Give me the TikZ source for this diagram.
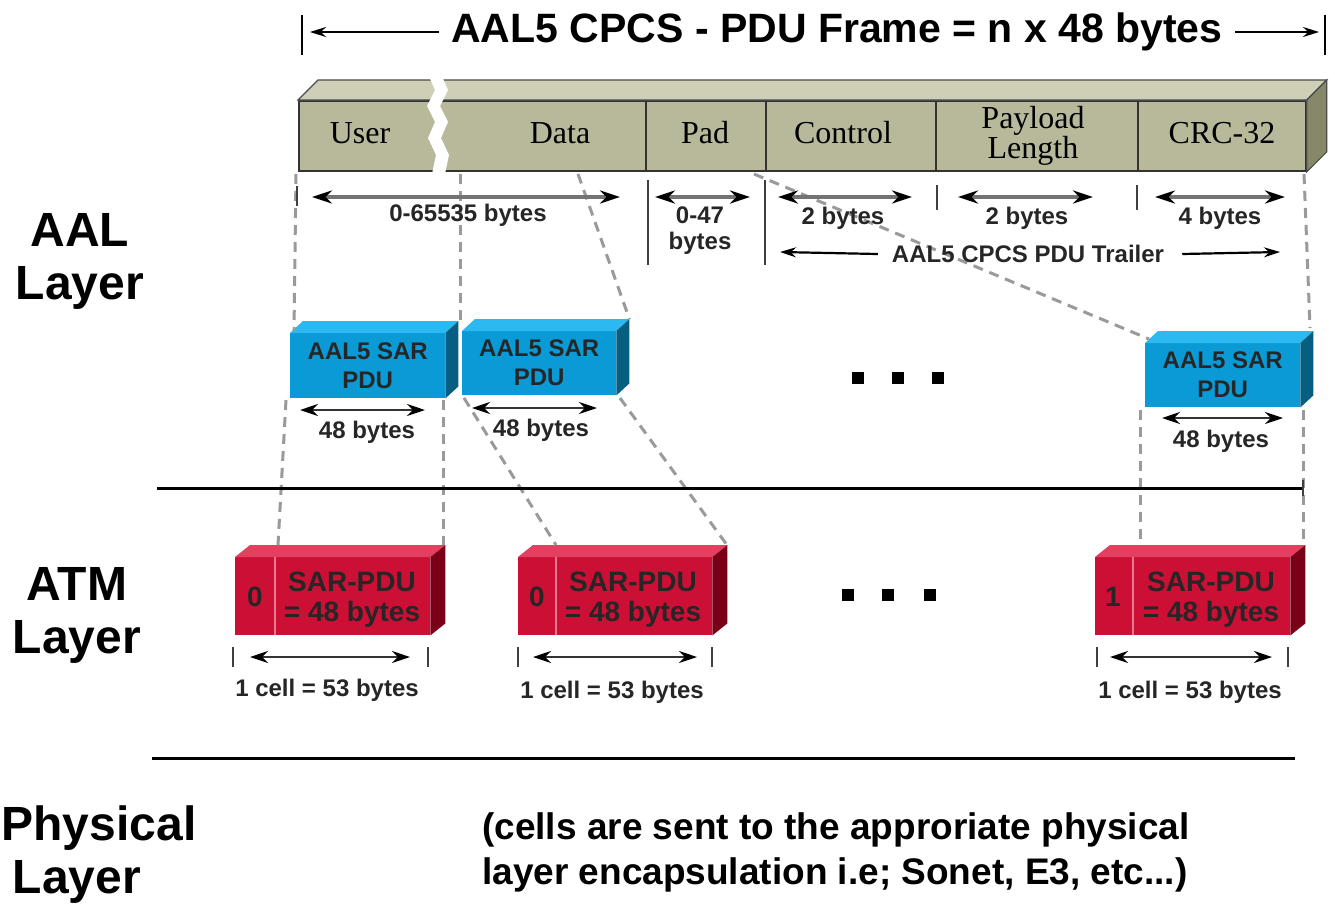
\documentclass[tikz,border=0pt]{standalone}
\usepackage{fontspec}
\setmainfont{Liberation Sans}
\newfontfamily\serfont{Liberation Serif}
\usetikzlibrary{arrows.meta}
\definecolor{tanfront}{HTML}{B8B89A}
\definecolor{tantop}{HTML}{CFCFB8}
\definecolor{tanside}{HTML}{87876A}
\definecolor{bluefront}{HTML}{0A9AD6}
\definecolor{bluetop}{HTML}{2CB8F0}
\definecolor{blueside}{HTML}{065E80}
\definecolor{redfront}{HTML}{CC0F35}
\definecolor{redtop}{HTML}{E3405F}
\definecolor{redside}{HTML}{7A0018}
\definecolor{dashgray}{HTML}{9A9A9A}
\newcommand\boxfaces[5]{%
 \fill[#4] (#1.north west) -- ++(#2,-#3) -- ([shift={(#2,-#3)}]#1.north east) -- (#1.north east) -- cycle;
 \fill[#5] (#1.north east) -- ++(#2,-#3) -- ([shift={(#2,-#3)}]#1.south east) -- (#1.south east) -- cycle;}
\begin{document}
\begin{tikzpicture}[x=1pt,y=-1pt,
  lbl/.style={font=\bfseries\fontsize{24}{26}\selectfont, inner sep=0pt, align=center, text=black!85},
  layerlbl/.style={font=\bfseries\fontsize{48}{53}\selectfont, inner sep=0pt, align=center},
  fcell/.style={draw=black!80, line width=1.8pt, fill=tanfront, minimum height=70pt, anchor=north west, inner sep=0pt},
  ser/.style={font=\serfont\fontsize{32}{26}\selectfont, inner sep=0pt, align=center},
  dimarr/.style={draw=black!55, line width=3.6pt, {Stealth[length=20pt,width=13pt,black]}-{Stealth[length=20pt,width=13pt,black]}},
  cellarr/.style={draw=black!80, line width=2.6pt, {Stealth[length=18pt,width=12pt,black]}-{Stealth[length=18pt,width=12pt,black]}},
  tharrow/.style={draw=black, line width=2.2pt, -{Stealth[length=16pt,width=10pt]}},
  tk/.style={draw=black!75, line width=2.2pt},
  dsh/.style={draw=dashgray, line width=3pt, dash pattern=on 10pt off 7pt},
  bluebox/.style={fill=bluefront, anchor=north west, inner sep=0pt, font=\bfseries\fontsize{24}{29}\selectfont, align=center, text=black!85},
  redbox/.style={fill=redfront, anchor=north west, inner sep=0pt},
  redtxt/.style={font=\bfseries\fontsize{28}{30}\selectfont, inner sep=0pt, align=center, text=black!85},
  sqdot/.style={fill=black, minimum size=12pt, inner sep=0pt}
]
\useasboundingbox (0,0) rectangle (1335,908);
\fill[white] (0,0) rectangle (1335,908);

% ---------- title ----------
\node[font=\bfseries\fontsize{41}{44}\selectfont, inner sep=0pt] (title) at (837,32) {AAL5 CPCS - PDU Frame = n x 48 bytes};
\coordinate (tl) at (302,32); \coordinate (tr) at (1325,32);
\draw[tk, line width=1.6pt, draw=black] (302,15) -- (302,55);
\draw[tk, line width=1.6pt, draw=black] (1325,15) -- (1325,55);
\draw[tharrow] ([xshift=-12pt]title.west) -- ([xshift=8pt]tl);
\draw[tharrow] ([xshift=12pt]title.east) -- ([xshift=-6pt]tr);

% ---------- frame ----------
\node[fcell, minimum width=347pt] (ud) at (298,100) {};
\node[fcell, minimum width=120pt] (pad) at (645,100) {};
\node[fcell, minimum width=170pt] (ctl) at (765,100) {};
\node[fcell, minimum width=202pt] (pl) at (935,100) {};
\node[fcell, minimum width=168pt] (crc) at (1137,100) {};
\filldraw[fill=tantop, draw=black!70, line width=1.2pt] (ud.north west) -- ++(20,-20) -- ([shift={(20,-20)}]crc.north east) -- (crc.north east) -- cycle;
\filldraw[fill=tanside, draw=black!70, line width=1.2pt] (crc.north east) -- ++(20,-20) -- ([shift={(20,-20)}]crc.south east) -- (crc.south east) -- cycle;
\fill[white] (428,74) -- (435,90) -- (427,106) -- (435,122) -- (428,138) -- (436,155) -- (432,174)
  -- (445,174) -- (449,155) -- (441,138) -- (448,122) -- (440,106) -- (448,90) -- (441,74) -- cycle;
\node[ser] (tuser) at (360,133) {User};
\node[ser] (tdata) at (560,133) {Data};
\node[ser] (tpad) at (705,133) {Pad};
\node[ser] (tctl) at (843,133) {Control};
\node[ser] (tpl) at (1033,136) {Payload\\Length};
\node[ser] (tcrc) at (1222,133) {CRC-32};

% ---------- blue boxes ----------
\node[bluebox, minimum width=155pt, minimum height=65pt] (b1) at (290,333) {AAL5 SAR\\PDU};
\boxfaces{b1}{13}{12}{bluetop}{blueside}
\node[bluebox, minimum width=154pt, minimum height=64pt] (b2) at (462,331) {AAL5 SAR\\PDU};
\boxfaces{b2}{13}{12}{bluetop}{blueside}
\node[bluebox, minimum width=155pt, minimum height=64pt] (b3) at (1145,343) {AAL5 SAR\\PDU};
\boxfaces{b3}{13}{12}{bluetop}{blueside}

% ---------- red boxes ----------
\node[redbox, minimum width=195pt, minimum height=78pt] (r1) at (235,557) {};
\boxfaces{r1}{15}{12}{redtop}{redside}
\node[redbox, minimum width=194pt, minimum height=78pt] (r2) at (518,557) {};
\boxfaces{r2}{15}{12}{redtop}{redside}
\node[redbox, minimum width=195pt, minimum height=78pt] (r3) at (1095,557) {};
\boxfaces{r3}{15}{12}{redtop}{redside}
\draw[draw=redtop!70!white, line width=1.5pt] (275,557) -- (275,635);
\draw[draw=redtop!70!white, line width=1.5pt] (556,557) -- (556,635);
\draw[draw=redtop!70!white, line width=1.5pt] (1133,557) -- (1133,635);
\node[redtxt] (n1) at (255,597) {0};
\node[redtxt] (n2) at (537,597) {0};
\node[redtxt] (n3) at (1113,597) {1};
\node[redtxt] (s1) at (352,600) {SAR-PDU\\= 48 bytes};
\node[redtxt] (s2) at (633,600) {SAR-PDU\\= 48 bytes};
\node[redtxt] (s3) at (1211,600) {SAR-PDU\\= 48 bytes};

% ---------- dashed projection lines ----------
\coordinate (f1) at (296,174); \coordinate (f2) at (460,174); \coordinate (f3) at (578,174);
\coordinate (f4) at (754,174); \coordinate (f5) at (1304,174);
\draw[dsh] (f1) -- (294,331);
\draw[dsh] (f2) -- (460,325);
\draw[dsh] (f3) -- ([shift={(13,-12)}]b2.north east);
\draw[dsh] (f4) -- ([shift={(4,-4)}]b3.north west);
\draw[dsh] (f5) -- (1310,328);
\draw[dsh] (286,400) -- (278,545);
\draw[dsh] (443,400) -- (443,545);
\draw[dsh] (464,398) -- (556,545);
\draw[dsh] (620,398) -- (727,545);
\draw[dsh] (1140,410) -- (1140,545);
\draw[dsh] (1303,410) -- (1303,545);

% ---------- frame dimensions ----------
\draw[tk] (297,186) -- (297,206);
\draw[dimarr] (312,197) -- (620,197);
\node[lbl] (d1) at (468,215) {0-65535 bytes};
\draw[tk] (648,180) -- (648,265);
\draw[dimarr] (655,197) -- (750,197);
\node[lbl] (d2) at (700,231) {0-47\\bytes};
\draw[tk] (765,180) -- (765,265);
\draw[dimarr] (778,197) -- (912,197);
\node[lbl] (d3) at (843,218) {2 bytes};
\draw[tk] (937,185) -- (937,210);
\draw[dimarr] (958,197) -- (1093,197);
\node[lbl] (d4) at (1027,218) {2 bytes};
\draw[tk] (1137,185) -- (1137,210);
\draw[dimarr] (1155,197) -- (1285,197);
\node[lbl] (d5) at (1220,218) {4 bytes};
\node[lbl] (trl) at (1028,254) {AAL5 CPCS PDU Trailer};
\draw[tharrow] ([xshift=-14pt]trl.west) -- (780,252);
\draw[tharrow] ([xshift=18pt]trl.east) -- (1280,252);

% ---------- 48 bytes ----------
\draw[cellarr] (300,410) -- (425,410);
\node[lbl] (e1) at (367,432) {48 bytes};
\draw[cellarr] (472,408) -- (597,408);
\node[lbl] (e2) at (541,430) {48 bytes};
\draw[cellarr] (1162,418) -- (1283,418);
\node[lbl] (e3) at (1221,441) {48 bytes};

% ---------- dots ----------
\node[sqdot] at (858,378) {}; \node[sqdot] at (898,378) {}; \node[sqdot] at (938,378) {};
\node[sqdot] at (848,595) {}; \node[sqdot] at (888,595) {}; \node[sqdot] at (930,595) {};

% ---------- layer separators ----------
\draw[line width=3pt] (157,488) -- (1303,488);
\draw[tk] (1303,480) -- (1303,496);
\draw[line width=3pt] (152,758) -- (1295,758);

% ---------- cell dimensions ----------
\draw[tk] (233,647) -- (233,667); \draw[tk] (428,647) -- (428,667);
\draw[cellarr] (250,657) -- (410,657);
\node[lbl] (c1) at (327,690) {1 cell = 53 bytes};
\draw[tk] (518,647) -- (518,667); \draw[tk] (712,647) -- (712,667);
\draw[cellarr] (533,657) -- (697,657);
\node[lbl] (c2) at (612,692) {1 cell = 53 bytes};
\draw[tk] (1097,647) -- (1097,667); \draw[tk] (1288,647) -- (1288,667);
\draw[cellarr] (1110,657) -- (1272,657);
\node[lbl] (c3) at (1190,692) {1 cell = 53 bytes};

% ---------- layer labels ----------
\node[layerlbl] (aal) at (80,261) {AAL\\Layer};
\node[layerlbl] (atm) at (77,615) {ATM\\Layer};
\node[layerlbl] (phy1) at (99,828) {Physical};
\node[layerlbl] (phy2) at (77,882) {Layer};

% ---------- bottom note ----------
\node[font=\bfseries\fontsize{37}{45}\selectfont, inner sep=0pt, align=left, anchor=west] (note) at (482,852)
  {(cells are sent to the approriate physical\\layer encapsulation i.e; Sonet, E3, etc...)};
\end{tikzpicture}
\end{document}
